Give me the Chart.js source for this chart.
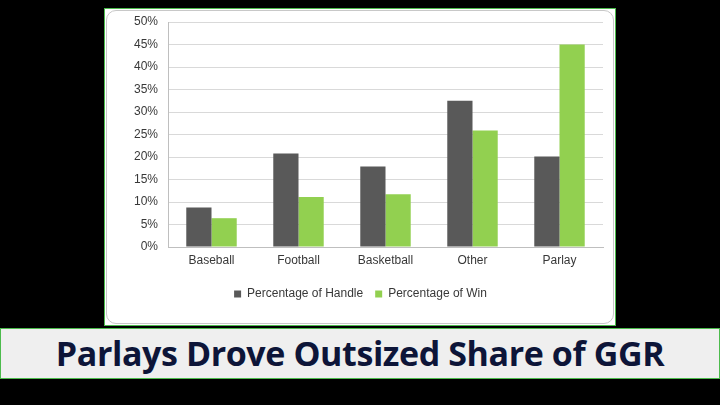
<!DOCTYPE html>
<html>
<head>
<meta charset="utf-8">
<script src="https://cdn.jsdelivr.net/npm/chart.js@4.4.0/dist/chart.umd.min.js"></script>
<style>
  html, body { margin: 0; padding: 0; background: #000; width: 720px; height: 405px; overflow: hidden; }
  #panel { position: absolute; left: 104px; top: 8px; width: 510px; height: 316px; border: 1px solid #4cbb4c; background: #fff; }
  #inner { position: absolute; left: 1px; top: 1px; right: 1px; bottom: 1px; border: 1px solid #c8c8c8; border-radius: 10px; background: #fff; }
  #band { position: absolute; left: 0; top: 328px; width: 718px; height: 49px; border: 1px solid #4cbb4c; background: #efefef;
          font-family: "Open Sans", sans-serif; font-weight: 700; font-size: 34px; color: #0d1538; text-align: center; line-height: 49px; letter-spacing: -0.4px; }
  #wrap { position: absolute; left: 0; top: 0; width: 720px; height: 405px; }
</style>
</head>
<body>
<div id="panel"><div id="inner"></div></div>
<div id="band">Parlays Drove Outsized Share of GGR</div>
<div id="wrap"><canvas id="chart" width="720" height="405"></canvas></div>
<script>
// values
const categories = ['Baseball', 'Football', 'Basketball', 'Other', 'Parlay'];
const handleShare = [8.8, 20.8, 17.9, 32.5, 20.1];
const winShare = [6.4, 11.1, 11.7, 25.9, 45.0];

Chart.defaults.font.family = '"Liberation Sans", Arial, sans-serif';
Chart.defaults.font.size = 12;
Chart.defaults.color = '#383838';

new Chart(document.getElementById('chart'), {
    type: 'bar',
    data: {
        labels: categories,
        datasets: [
            { label: 'Percentage of Handle', data: handleShare, backgroundColor: '#595959' },
            { label: 'Percentage of Win', data: winShare, backgroundColor: '#92d050' }
        ]
    },
    options: {
        responsive: false,
        animation: false,
        layout: { padding: { left: 118, right: 117, top: 22, bottom: 95 } },
        plugins: {
            tooltip: { enabled: false },
            legend: {
                position: 'bottom',
                labels: { boxWidth: 7, boxHeight: 7, padding: 12, color: '#383838' }
            }
        },
        datasets: { bar: { categoryPercentage: 0.58, barPercentage: 1.0 } },
        scales: {
            x: {
                grid: { display: false, drawTicks: false },
                border: { color: '#bfbfbf' },
                ticks: { padding: 6 },
                afterFit: s => { s.height = 29; }
            },
            y: {
                min: 0, max: 50,
                grid: { color: '#d9d9d9', drawTicks: false },
                border: { color: '#bfbfbf' },
                ticks: { stepSize: 5, padding: 10, callback: v => v + '%' },
                afterFit: s => { s.width = 50; }
            }
        }
    }
});
</script>
</body>
</html>
